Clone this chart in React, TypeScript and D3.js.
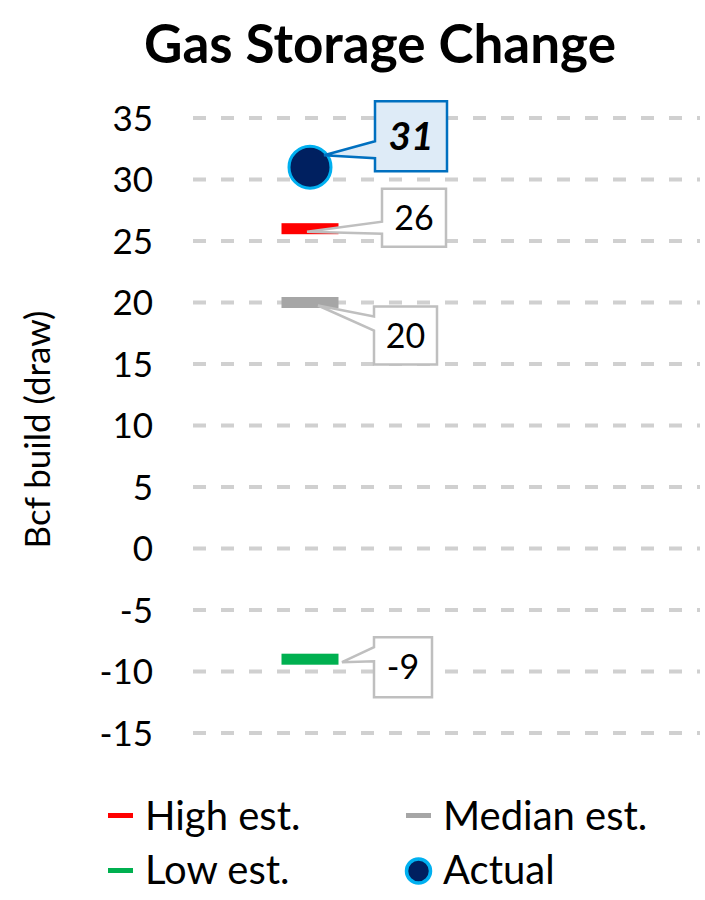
import React from "react";
import * as d3 from "d3";

// Weekly gas storage estimates vs. actual (Bcf)
const categories = ["This week"];
const seriesNames = ["High est.", "Median est.", "Low est.", "Actual"];
const highEst = [26];
const medianEst = [20];
const lowEst = [-9];
const actual = [31];
const yTicks = [-15, -10, -5, 0, 5, 10, 15, 20, 25, 30, 35];

const W = 705;
const H = 900;
const FONT = "Lato, 'Noto Sans', sans-serif";

const plot = { left: 193, right: 700, top: 118, bottom: 733 };

const colors = {
  high: "#FF0000",
  median: "#A6A6A6",
  low: "#00B050",
  actualFill: "#002060",
  actualStroke: "#00B0F0",
  grid: "#D0D0D0",
  calloutStroke: "#BFBFBF",
  actualBoxFill: "#DEEBF7",
  actualBoxStroke: "#0070C0",
};

// Callout geometry relative to the mark anchor: box left/top offsets, size,
// pointer tip offset, and where the pointer meets the box's left edge.
type CalloutLayout = {
  bx: number; by: number; w: number; h: number;
  tx: number; ty: number; b1: number; b2: number;
};
const calloutLayout: Record<string, CalloutLayout> = {
  actual: { bx: 65, by: -66, w: 72, h: 70, tx: 14, ty: -12, b1: 40, b2: 57 },
  high: { bx: 72, by: -40, w: 64, h: 58, tx: -3, ty: 3, b1: 33, b2: 45 },
  median: { bx: 64, by: 4, w: 63, h: 58, tx: 8, ty: 3, b1: 10, b2: 24 },
  low: { bx: 64, by: -22, w: 58, h: 60, tx: 32, ty: 3, b1: 10, b2: 24 },
};

function calloutPath(ax: number, ay: number, l: CalloutLayout) {
  const x0 = ax + l.bx;
  const y0 = ay + l.by;
  const p = d3.path();
  p.moveTo(x0, y0);
  p.lineTo(x0 + l.w, y0);
  p.lineTo(x0 + l.w, y0 + l.h);
  p.lineTo(x0, y0 + l.h);
  p.lineTo(x0, y0 + l.b2);
  p.lineTo(ax + l.tx, ay + l.ty);
  p.lineTo(x0, y0 + l.b1);
  p.closePath();
  return p.toString();
}

export default function App() {
  const y = d3.scaleLinear().domain([-15, 35]).range([plot.bottom, plot.top]);
  const x = d3
    .scaleBand<string>()
    .domain(categories)
    .range([plot.left, plot.left + 234]);
  const barW = 57;
  const barH = 11;

  const estimates = [
    { key: "high", values: highEst, color: colors.high },
    { key: "median", values: medianEst, color: colors.median },
    { key: "low", values: lowEst, color: colors.low },
  ];

  return (
    <svg width={W} height={H} style={{ position: "absolute", left: 0, top: 0 }}>
      <rect width={W} height={H} fill="#fff" />
      <text
        x={380}
        y={63}
        textAnchor="middle"
        fontFamily={FONT}
        fontWeight={700}
        fontSize={53}
        fill="#000"
      >
        Gas Storage Change
      </text>

      {/* gridlines */}
      {yTicks.map((t) => (
        <line
          key={"g" + t}
          x1={plot.left}
          x2={plot.right}
          y1={y(t)}
          y2={y(t)}
          stroke={colors.grid}
          strokeWidth={4}
          strokeDasharray="13 15"
        />
      ))}

      {/* y tick labels */}
      {yTicks.map((t) => (
        <text
          key={"t" + t}
          x={153}
          y={y(t)}
          dy="0.36em"
          textAnchor="end"
          fontFamily={FONT}
          fontSize={35}
          fill="#000"
        >
          {t}
        </text>
      ))}

      <text
        transform={`translate(38, ${(plot.top + plot.bottom) / 2 + 4}) rotate(-90)`}
        textAnchor="middle"
        dy="0.35em"
        fontFamily={FONT}
        fontSize={35}
        fill="#000"
      >
        Bcf build (draw)
      </text>

      {/* estimate markers */}
      {estimates.map((s) =>
        categories.map((c, i) => (
          <rect
            key={s.key + c}
            x={(x(c) ?? 0) + x.bandwidth() / 2 - barW / 2}
            y={y(s.values[i]) - barH / 2}
            width={barW}
            height={barH}
            fill={s.color}
          />
        ))
      )}

      {/* estimate callouts */}
      {estimates.map((s) =>
        categories.map((c, i) => {
          const ax = (x(c) ?? 0) + x.bandwidth() / 2;
          const ay = y(s.values[i]);
          const l = calloutLayout[s.key];
          return (
            <g key={"c" + s.key + c}>
              <path
                d={calloutPath(ax, ay, l)}
                fill="#fff"
                stroke={colors.calloutStroke}
                strokeWidth={2.5}
                strokeLinejoin="miter"
              />
              <text
                x={ax + l.bx + l.w / 2}
                y={ay + l.by + l.h / 2}
                dy="0.36em"
                textAnchor="middle"
                fontFamily={FONT}
                fontSize={34}
                fill="#000"
              >
                {s.values[i]}
              </text>
            </g>
          );
        })
      )}

      {/* actual */}
      {categories.map((c, i) => {
        const ax = (x(c) ?? 0) + x.bandwidth() / 2;
        const ay = y(actual[i]);
        const l = calloutLayout.actual;
        return (
          <g key={"a" + c}>
            <circle
              cx={ax}
              cy={ay}
              r={21}
              fill={colors.actualFill}
              stroke={colors.actualStroke}
              strokeWidth={3}
            />
            <path
              d={calloutPath(ax, ay, l)}
              fill={colors.actualBoxFill}
              stroke={colors.actualBoxStroke}
              strokeWidth={2.5}
            />
            <text
              x={ax + l.bx + l.w / 2}
              y={ay + l.by + l.h / 2}
              dy="0.36em"
              textAnchor="middle"
              fontFamily={FONT}
              fontSize={39}
              fontWeight={700}
              fontStyle="italic"
              fill="#000"
            >
              {actual[i]}
            </text>
          </g>
        );
      })}

      {/* legend */}
      <g fontFamily={FONT} fontSize={40} fill="#000">
        <line x1={108} x2={133} y1={815.5} y2={815.5} stroke={colors.high} strokeWidth={5} />
        <text x={145} y={816} dy="0.35em">{seriesNames[0]}</text>
        <line x1={406} x2={431} y1={815.5} y2={815.5} stroke={colors.median} strokeWidth={5} />
        <text x={443} y={816} dy="0.35em">{seriesNames[1]}</text>
        <line x1={108} x2={133} y1={870.5} y2={870.5} stroke={colors.low} strokeWidth={5} />
        <text x={145} y={870} dy="0.35em">{seriesNames[2]}</text>
        <circle cx={418.5} cy={871} r={12} fill={colors.actualFill} stroke={colors.actualStroke} strokeWidth={3.5} />
        <text x={443} y={870} dy="0.35em">{seriesNames[3]}</text>
      </g>
    </svg>
  );
}
